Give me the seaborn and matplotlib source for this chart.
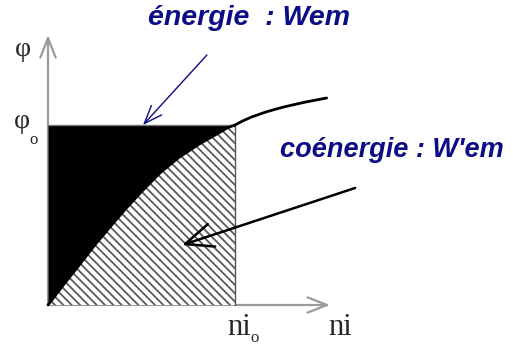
import matplotlib
matplotlib.use("Agg")
import matplotlib.pyplot as plt
import seaborn as sns
import numpy as np

# Magnetisation curve phi(ni), normalised so that the working point is (ni_o, phi_o) = (1, 1)
ni = [0.0, 0.09, 0.16, 0.25, 0.34, 0.42, 0.50, 0.60, 0.70, 0.81, 0.92, 0.96, 1.0,
      1.04, 1.09, 1.17, 1.26, 1.37, 1.49]
phi = [0.0, 0.122, 0.213, 0.333, 0.444, 0.54, 0.63, 0.735, 0.82, 0.895, 0.96, 0.985, 1.0,
       1.022, 1.045, 1.074, 1.10, 1.126, 1.15]

ni_o = 1.0
phi_o = 1.0

label_energy = "énergie  : Wem"
label_coenergy = "coénergie : W'em"

sns.set_style("white")
plt.rcParams["hatch.linewidth"] = 1.3

fig = plt.figure(figsize=(5.13, 3.47), dpi=100)
ax = fig.add_axes([0, 0, 1, 1])
ax.set_xlim(-0.2567, 2.4866)
ax.set_ylim(-0.2333, 1.6944)
ax.axis("off")

ni_a = np.array(ni)
phi_a = np.array(phi)
inside = ni_a <= ni_o

# energy: area between the curve and phi = phi_o
ax.fill_between(ni_a[inside], phi_a[inside], phi_o, color="black", lw=0, zorder=2)
# co-energy: area under the curve up to ni_o (hatched)
ax.fill_between(ni_a[inside], 0, phi_a[inside], facecolor="white", hatch="\\\\\\\\",
                edgecolor="#5a5a5a", linewidth=0, zorder=2)

# frame of the working point
ax.plot([ni_o, ni_o], [0, phi_o], color="#555555", lw=1.0, zorder=3)
ax.plot([0, ni_o], [phi_o, phi_o], color="#777777", lw=1.0, zorder=3)

# the curve itself
sns.lineplot(x=ni, y=phi, color="black", lw=2.0, sort=False, ax=ax, zorder=4)

# axes with open arrow heads
axis_style = dict(arrowstyle="->,head_length=1.4,head_width=0.55", color="#9a9a9a",
                  lw=1.6, shrinkA=0, shrinkB=0)
ax.annotate("", xy=(1.508, 0), xytext=(0, 0), arrowprops=axis_style, zorder=1)
ax.annotate("", xy=(0, 1.5), xytext=(0, 0), arrowprops=axis_style, zorder=1)

# axis labels
serif = ["Liberation Serif", "DejaVu Serif"]
lab_col = "#262626"
ax.text(-0.136, 1.422, "φ", fontsize=20, family=serif, color=lab_col, ha="center", va="center")
ax.text(-0.140, 1.022, "φ", fontsize=20, family=serif, color=lab_col, ha="center", va="center")
ax.text(-0.078, 0.915, "o", fontsize=12, family=serif, color=lab_col, ha="center", va="center")
ax.text(1.021, -0.167, "ni", fontsize=22, family=serif, color=lab_col, ha="center", va="baseline")
ax.text(1.107, -0.183, "o", fontsize=12, family=serif, color=lab_col, ha="center", va="center")
ax.text(1.561, -0.167, "ni", fontsize=22, family=serif, color=lab_col, ha="center", va="baseline")

# annotations
navy = "#0c0c86"
ax.text(0.535, 1.594, label_energy, fontsize=20.5, family="Liberation Sans", weight="bold",
        style="italic", color=navy, ha="left", va="center")
ax.annotate("", xy=(0.508, 1.0), xytext=(0.85, 1.389),
            arrowprops=dict(arrowstyle="->,head_length=1.3,head_width=0.5", color=navy,
                            lw=1.0, shrinkA=0, shrinkB=0), zorder=5)

ax.text(1.24, 0.861, label_coenergy, fontsize=19.5, family="Liberation Sans", weight="bold",
        style="italic", color=navy, ha="left", va="center")
ax.annotate("", xy=(0.717, 0.333), xytext=(1.642, 0.65),
            arrowprops=dict(arrowstyle="->,head_length=2.0,head_width=0.85", color="black",
                            lw=1.8, shrinkA=0, shrinkB=0), zorder=5)

fig.savefig("out.png", dpi=100)
